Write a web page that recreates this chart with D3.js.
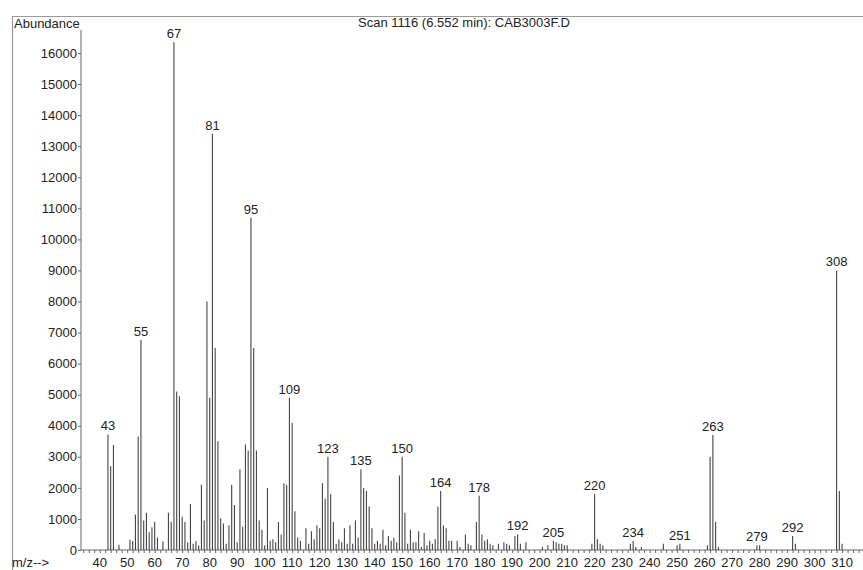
<!DOCTYPE html>
<html>
<head>
<meta charset="utf-8">
<script src="https://cdn.jsdelivr.net/npm/d3@7"></script>
<style>
  body { margin: 0; background: #fff; }
  text { font-family: Arial, "Liberation Sans", sans-serif; fill: #222; }
</style>
</head>
<body>
<script>
// mass spectrum data: m/z and abundance
var mz = [43,44,45,47,51,52,53,54,55,56,57,58,59,60,61,63,65,66,67,68,69,70,71,72,73,74,75,76,77,78,79,80,81,82,83,84,85,86,87,88,89,90,91,92,93,94,95,96,97,98,99,100,101,102,103,104,105,106,107,108,109,110,111,112,113,115,116,117,118,119,120,121,122,123,124,125,126,127,128,129,130,131,132,133,134,135,136,137,138,139,140,141,142,143,144,145,146,147,148,149,150,151,152,153,154,155,156,157,158,159,160,161,162,163,164,165,166,167,168,170,171,173,174,175,177,178,179,180,181,182,183,185,187,188,189,191,192,193,195,201,203,205,206,207,208,209,210,219,220,221,222,223,233,234,235,237,245,250,251,261,262,263,264,265,279,280,292,293,308,309,310];
var abundance = [3720,2700,3380,170,330,290,1140,3650,6760,950,1200,570,730,910,400,270,1200,910,16350,5100,4950,1070,900,250,1480,200,280,150,2100,950,8000,4900,13400,6500,3500,1020,850,200,800,2100,1450,250,2600,750,3400,3200,10700,6500,3200,950,650,150,2000,300,350,250,900,500,2150,2100,4900,4100,1250,400,300,700,200,600,350,800,700,2150,1650,3000,1800,900,200,350,250,700,200,800,200,950,400,2600,2000,1900,1400,700,200,300,200,650,150,450,300,400,250,2400,3000,1200,200,650,250,250,600,100,550,150,300,200,350,1400,1900,800,700,300,300,300,100,500,200,150,900,1750,500,300,350,200,150,200,250,200,150,450,500,200,250,100,150,300,250,200,200,150,150,200,1800,350,200,150,200,300,100,100,200,150,200,150,3000,3700,900,100,150,150,450,200,9000,1900,200];
var labelled = [43,55,67,81,95,109,123,135,150,164,178,192,205,220,234,251,263,279,292,308];
var yTicks = d3.range(0, 16001, 1000);
var xTicks = d3.range(40, 311, 10);

var w = 863, h = 570;
var svg = d3.select("body").append("svg")
  .attr("width", w)
  .attr("height", h);

var x = d3.scaleLinear().domain([33.2, 317.6]).range([81, 863]);
var y = d3.scaleLinear().domain([0, 16000]).range([550, 53]);

// frame lines from the printout
svg.append("line").attr("x1", 12).attr("x2", 863).attr("y1", 16.5).attr("y2", 16.5)
  .attr("stroke", "#999").attr("stroke-width", 1.2);
svg.append("line").attr("x1", 12.5).attr("x2", 12.5).attr("y1", 16).attr("y2", 570)
  .attr("stroke", "#999").attr("stroke-width", 1.2);

svg.append("text").attr("x", 14).attr("y", 28).attr("font-size", 13).text("Abundance");
svg.append("text").attr("x", 358).attr("y", 27).attr("font-size", 13)
  .text("Scan 1116 (6.552 min): CAB3003F.D");

// y axis
var yAxis = svg.append("g")
  .attr("transform", "translate(81,0)")
  .call(d3.axisLeft(y).tickValues(yTicks).tickSize(3).tickFormat(d3.format("d")));
yAxis.select(".domain").attr("d", "M0,30V550").attr("stroke", "#666");
yAxis.selectAll(".tick line").attr("stroke", "#666");
yAxis.selectAll(".tick text").attr("font-size", 13).attr("font-family", "Arial, 'Liberation Sans', sans-serif").attr("fill", "#222").attr("x", -4);

// x axis, minor ticks every 2
var xAxis = svg.append("g")
  .attr("transform", "translate(0,550)")
  .call(d3.axisBottom(x).tickValues(d3.range(34, 318, 2)).tickSize(3).tickFormat(""));
xAxis.select(".domain").attr("d", "M81,0H863").attr("stroke", "#666");
xAxis.selectAll(".tick line").attr("stroke", "#666");

svg.append("g").selectAll("text")
  .data(xTicks)
  .join("text")
  .attr("x", function(d){ return x(d); })
  .attr("y", 567)
  .attr("text-anchor", "middle")
  .attr("font-size", 13)
  .text(function(d){ return d; });

svg.append("text").attr("x", 12).attr("y", 567).attr("font-size", 13).text("m/z-->");

// peaks
svg.append("g").selectAll("line")
  .data(mz)
  .join("line")
  .attr("x1", function(d){ return x(d); })
  .attr("x2", function(d){ return x(d); })
  .attr("y1", y(0))
  .attr("y2", function(d, i){ return y(abundance[i]); })
  .attr("stroke", "#444")
  .attr("stroke-width", 1.1);

// peak labels
svg.append("g").selectAll("text")
  .data(labelled)
  .join("text")
  .attr("x", function(d){ return x(d); })
  .attr("y", function(d){ return y(abundance[mz.indexOf(d)]) - 4; })
  .attr("text-anchor", "middle")
  .attr("font-size", 13)
  .text(function(d){ return d; });
</script>
</body>
</html>
